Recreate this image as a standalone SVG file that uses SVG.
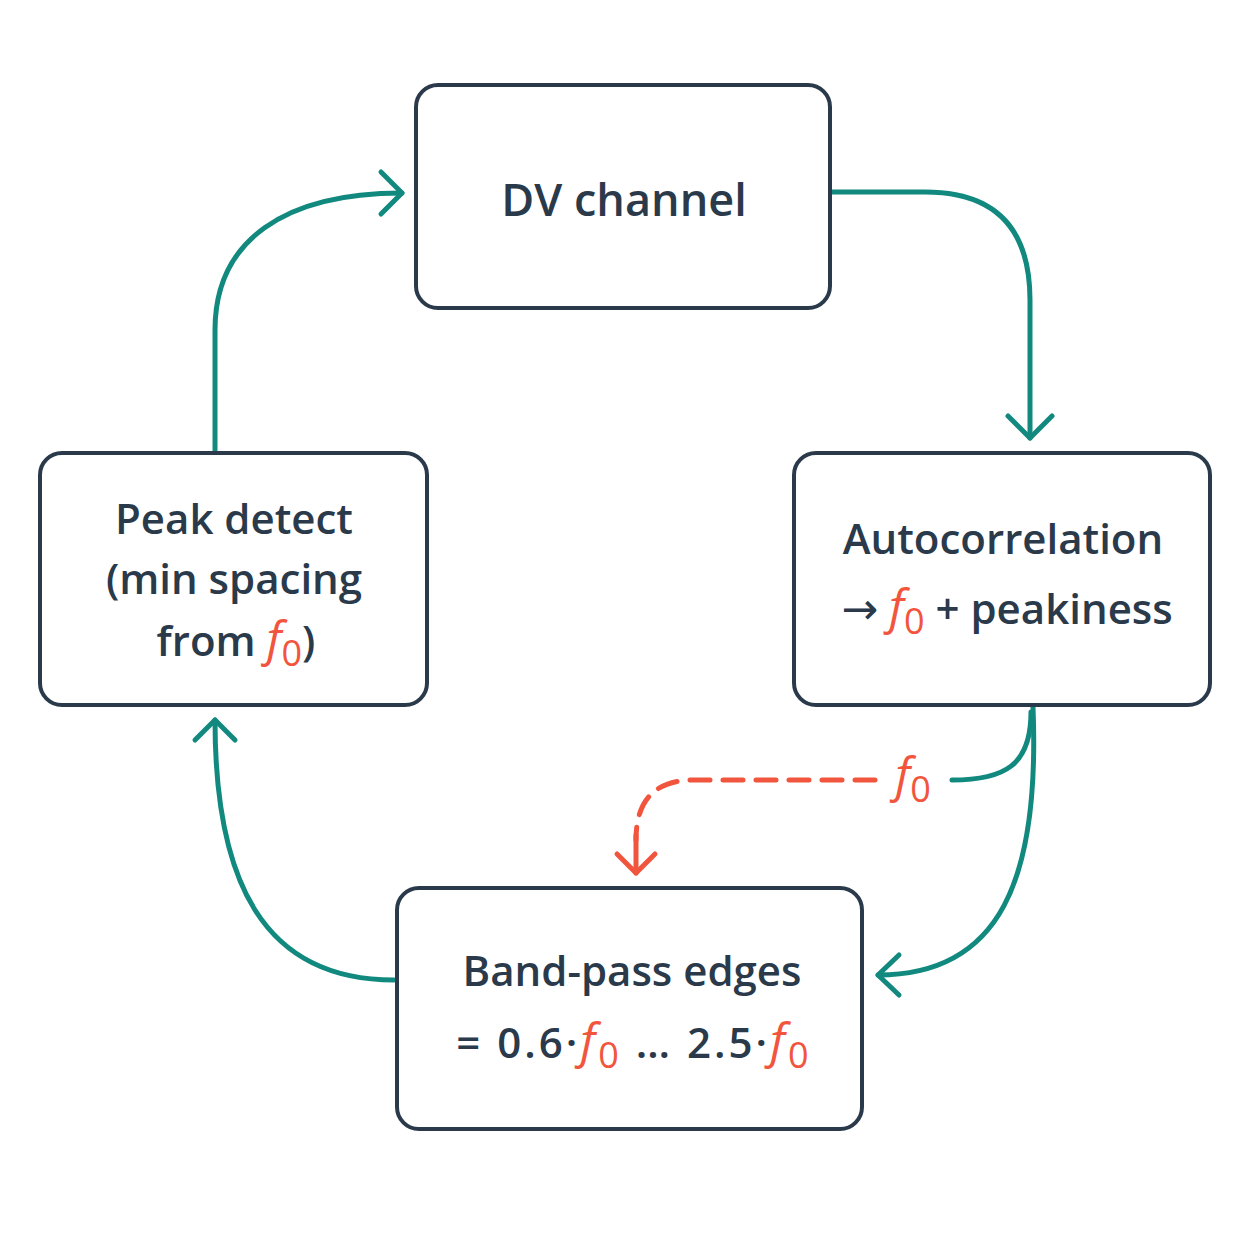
<svg xmlns="http://www.w3.org/2000/svg" width="1254" height="1254" viewBox="0 0 1254 1254">
<style>
.box{fill:#fff;stroke:#2a3a4a;stroke-width:4}
.t{font-family:"Open Sans","Noto Sans",sans-serif;font-size:42px;font-weight:600;fill:#2a3a4a;text-anchor:middle}
.big{font-size:45px}
.r{fill:#f2553d}
.f{font-style:italic;font-size:48px;font-weight:500}
.sub{font-size:36px;font-weight:500}
.c{fill:none;stroke:#12897e;stroke-width:5;stroke-linecap:round;stroke-linejoin:round}
.d{fill:none;stroke:#f2553d;stroke-width:5;stroke-linecap:round;stroke-linejoin:round}
</style>
<rect width="1254" height="1254" fill="#fff"/>
<g id="connectors">
<path class="c" d="M832,192 L925,192 Q1030,192 1030,300 L1030,438"/>
<path class="c" d="M1008,416 L1030,438 L1052,416"/>
<path class="c" d="M1033,707 C1040,880 1000,975 878,975"/>
<path class="c" d="M899,955 L878,975 L899,995"/>
<path class="c" d="M1031,712 C1031,765 1005,780 952,780"/>
<path class="d" d="M875,780 L690,780 Q636,782 636,840" stroke-dasharray="20,13"/>
<path class="d" d="M636,835 L636,873"/>
<path class="d" d="M617,854 L636,873 L655,854"/>
<path class="c" d="M394,980 C262,980 215,880 215,720"/>
<path class="c" d="M195,740 L215,720 L235,740"/>
<path class="c" d="M215,450 L215,330 C215,240 285,193 402,193"/>
<path class="c" d="M381,172 L402,193 L381,214"/>
</g>
<text class="t" x="913" y="792"><tspan class="r f">f</tspan><tspan class="r sub" dy="10">0</tspan></text>
<g id="node-dv">
<rect class="box" x="416" y="85" width="414" height="223" rx="22"/>
<text class="t big" x="624" y="216">DV channel</text>
</g>
<g id="node-autocorr">
<rect class="box" x="794" y="453" width="416" height="252" rx="22"/>
<text class="t" x="1003" y="554">Autocorrelation</text>
<text class="t" x="1007" y="624"><tspan font-family="DejaVu Sans" font-size="44" font-weight="400">→</tspan> <tspan class="r f">f</tspan><tspan class="r sub" dy="10">0</tspan><tspan dy="-10"> + peakiness</tspan></text>
</g>
<g id="node-peak">
<rect class="box" x="40" y="453" width="387" height="252" rx="22"/>
<text class="t" x="234" y="534">Peak detect</text>
<text class="t" x="234" y="594">(min spacing</text>
<text class="t" x="236" y="656">from <tspan class="r f">f</tspan><tspan class="r sub" dy="10">0</tspan><tspan dy="-10">)</tspan></text>
</g>
<g id="node-band">
<rect class="box" x="397" y="888" width="465" height="241" rx="22"/>
<text class="t" x="632" y="986">Band-pass edges</text>
<text class="t" x="634" y="1058" letter-spacing="3">= 0.6·<tspan class="r f">f</tspan><tspan class="r sub" dy="10">0</tspan><tspan dy="-10"> … 2.5·</tspan><tspan class="r f">f</tspan><tspan class="r sub" dy="10">0</tspan></text>
</g>
</svg>
